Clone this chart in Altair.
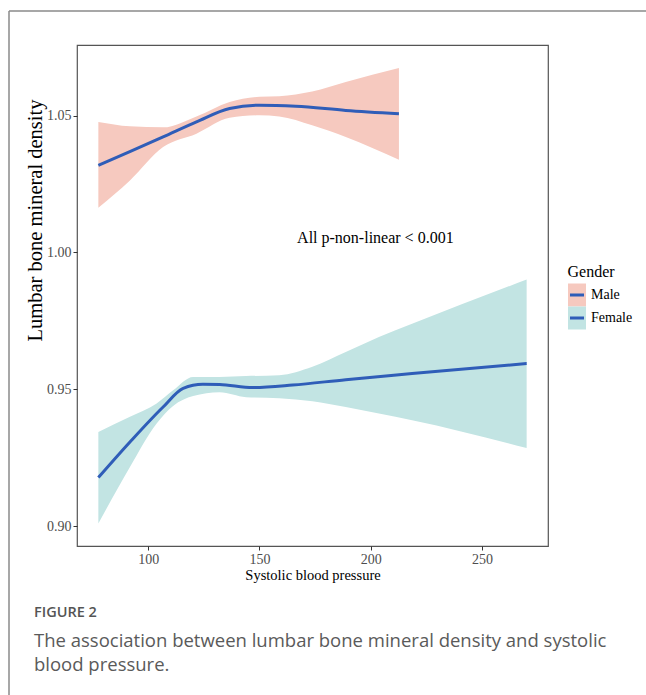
import altair as alt
import pandas as pd

# ---- data ----
genders = ["Male", "Female"]

male_band_x = [77.6, 91.8, 106.7, 121.7, 136.6, 150.0, 158.9, 173.7, 188.8, 212.7]
male_upper = [1.0477, 1.0461, 1.0457, 1.0497, 1.0550, 1.0569, 1.0571, 1.0588, 1.0623, 1.0674]
male_lower = [1.0163, 1.0263, 1.0385, 1.0434, 1.0492, 1.0501, 1.0497, 1.0465, 1.0422, 1.0339]
male_line_x = [77.6, 92.0, 106.7, 121.7, 136.6, 150.0, 166.4, 188.8, 212.7]
male_line_y = [1.0318, 1.0369, 1.0422, 1.0477, 1.0526, 1.0538, 1.0534, 1.0519, 1.0507]

female_band_x = [77.6, 91.8, 103.8, 111.2, 120.2, 132.1, 144.0, 158.9, 173.8, 188.8, 203.7, 218.6, 270.1]
female_upper = [0.9344, 0.9399, 0.9448, 0.9496, 0.9545, 0.9545, 0.9548, 0.9551, 0.9582, 0.9636, 0.9691, 0.9739, 0.9901]
female_lower = [0.9009, 0.9216, 0.9375, 0.9439, 0.9475, 0.9489, 0.9471, 0.9467, 0.9456, 0.9435, 0.9411, 0.9387, 0.9285]
female_line_x = [77.6, 91.8, 106.7, 115.7, 124.6, 132.1, 147.0, 164.9, 188.8, 218.6, 270.1]
female_line_y = [0.9177, 0.9307, 0.9435, 0.9503, 0.9518, 0.9517, 0.9506, 0.9515, 0.9535, 0.9557, 0.9594]

x_ticks = [100, 150, 200, 250]
y_ticks = [0.90, 0.95, 1.00, 1.05]
x_domain = [68.0, 279.7]
y_domain = [0.8927, 1.0758]

annotation = "All p-non-linear < 0.001"
annot_x = [202.1]
annot_y = [1.0051]

fig_label = "FIGURE 2"
caption_lines = ["The association between lumbar bone mineral density and systolic",
                 "blood pressure."]

band_colors = ["#F6C9BF", "#C2E4E3"]
line_color = "#2F5DB8"
serif = "Liberation Serif"
sans = "Open Sans"

# ---- tables ----
band_df = pd.concat([
    pd.DataFrame({"x": male_band_x, "lo": male_lower, "hi": male_upper, "Gender": "Male"}),
    pd.DataFrame({"x": female_band_x, "lo": female_lower, "hi": female_upper, "Gender": "Female"}),
])
line_df = pd.concat([
    pd.DataFrame({"x": male_line_x, "y": male_line_y, "Gender": "Male"}),
    pd.DataFrame({"x": female_line_x, "y": female_line_y, "Gender": "Female"}),
])

W, H = 471, 501
PL, PT = 77, 45

xscale = alt.Scale(domain=x_domain, nice=False, zero=False)
yscale = alt.Scale(domain=y_domain, nice=False, zero=False)
fill_scale = alt.Scale(domain=genders, range=band_colors)

x_axis = alt.Axis(values=x_ticks, title="Systolic blood pressure", grid=False, domain=False,
                  tickColor="#333333", tickSize=4, labelPadding=2, labelFont=serif,
                  labelFontSize=14, labelColor="#4d4d4d", titleFont=serif, titleFontSize=14.5,
                  titleFontWeight="normal", titleColor="#000000", titlePadding=2)
y_axis = alt.Axis(values=y_ticks, format=".2f", title="Lumbar bone mineral density", grid=False,
                  domain=False, tickColor="#333333", tickSize=4, labelPadding=2, labelFont=serif,
                  labelFontSize=14, labelColor="#4d4d4d", titleFont=serif, titleFontSize=20.5,
                  titleFontWeight="normal", titleColor="#000000", titlePadding=1,
                  titleY=175)

band = alt.Chart(band_df).mark_area(interpolate="monotone", opacity=1).encode(
    x=alt.X("x:Q", scale=xscale, axis=x_axis),
    y=alt.Y("lo:Q", scale=yscale, axis=y_axis),
    y2="hi:Q",
    fill=alt.Fill("Gender:N", scale=fill_scale, legend=None),
)

lines = alt.Chart(line_df).mark_line(interpolate="monotone", color=line_color, strokeWidth=3).encode(
    x=alt.X("x:Q", scale=xscale),
    y=alt.Y("y:Q", scale=yscale),
    detail="Gender:N",
)

annot = alt.Chart(pd.DataFrame({"x": annot_x, "y": annot_y, "t": [annotation]})).mark_text(
    font=serif, fontSize=16, color="#000000", align="center", baseline="middle"
).encode(x=alt.X("x:Q", scale=xscale), y=alt.Y("y:Q", scale=yscale), text="t:N")

# ---- manual legend ----
legend_layers = []
leg_df = pd.DataFrame({"Gender": genders})
legend_layers.append(
    alt.Chart(pd.DataFrame({"t": ["Gender"]})).mark_text(
        font=serif, fontSize=16, align="left", baseline="middle", color="#000000"
    ).encode(x=alt.value(490.5), y=alt.value(226.5), text="t:N")
)
for i, g in enumerate(genders):
    cy = 250 + 23 * i
    sub = leg_df[leg_df["Gender"] == g]
    legend_layers.append(
        alt.Chart(sub).mark_rect().encode(
            x=alt.value(491), x2=alt.value(509), y=alt.value(cy - 11.5), y2=alt.value(cy + 11.5),
            fill=alt.Fill("Gender:N", scale=fill_scale, legend=None),
        )
    )
    legend_layers.append(
        alt.Chart(sub).mark_rule(color=line_color, strokeWidth=3).encode(
            x=alt.value(493), x2=alt.value(507), y=alt.value(cy)
        )
    )
    legend_layers.append(
        alt.Chart(sub).mark_text(font=serif, fontSize=14, align="left", baseline="middle",
                                 color="#000000").encode(
            x=alt.value(514), y=alt.value(cy), text="Gender:N"
        )
    )

# ---- outer frame and caption ----
frame_top = alt.Chart(pd.DataFrame({"a": [0]})).mark_rule(color="#8a8a8a", strokeWidth=1.5).encode(
    x=alt.value(-68), x2=alt.value(W + 100), y=alt.value(-34)
)
frame_left = alt.Chart(pd.DataFrame({"a": [0]})).mark_rule(color="#8a8a8a", strokeWidth=1.5).encode(
    x=alt.value(-68), y=alt.value(-34), y2=alt.value(H + 160)
)
fig_text = alt.Chart(pd.DataFrame({"t": [fig_label]})).mark_text(
    font=sans, fontSize=14.5, fontWeight=600, color="#555555", align="left", baseline="middle"
).encode(x=alt.value(-43), y=alt.value(568), text="t:N")
cap_layers = []
for i, line in enumerate(caption_lines):
    cap_layers.append(
        alt.Chart(pd.DataFrame({"t": [line]})).mark_text(
            font=sans, fontSize=18.5, color="#5a5a5a", align="left", baseline="middle"
        ).encode(x=alt.value(-43), y=alt.value(596 + 24 * i), text="t:N")
    )

chart = alt.layer(
    band, lines, annot, *legend_layers, frame_top, frame_left, fig_text, *cap_layers
).properties(
    width=W, height=H,
    autosize=alt.AutoSizeParams(type="none"),
    padding={"left": PL, "top": PT, "right": 646 - PL - W, "bottom": 695 - PT - H},
    background="#ffffff",
).configure_view(stroke="#555555", strokeWidth=1.2)

chart.save("out.html", embed_options={"renderer": "svg", "actions": False})
